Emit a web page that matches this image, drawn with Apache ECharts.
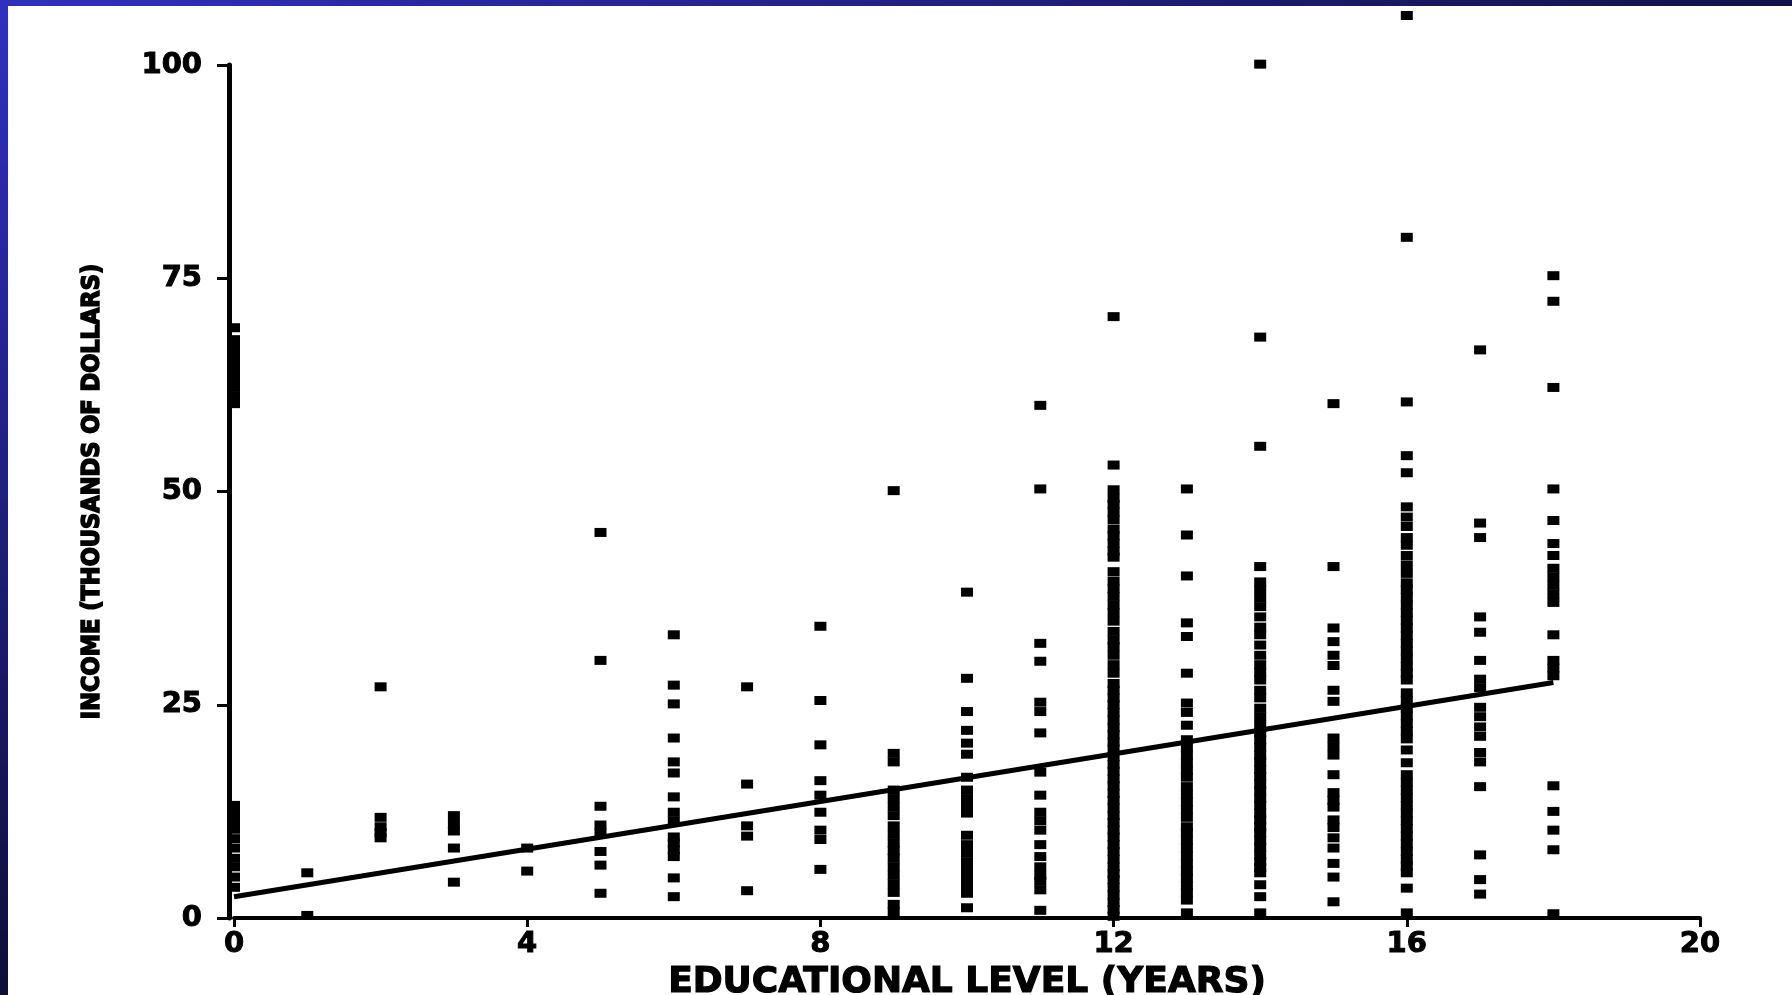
<!DOCTYPE html>
<html>
<head>
<meta charset="utf-8">
<title>Income vs Educational Level</title>
<script src="https://cdn.jsdelivr.net/npm/echarts@6/dist/echarts.min.js"></script>
<style>
  html, body { margin: 0; padding: 0; background: #ffffff; }
  #chart { width: 1792px; height: 995px; }
</style>
</head>
<body>
<div id="chart"></div>
<script>
// Years of schooling on the x axis, and the incomes (thousands of dollars)
// observed for each level of schooling.
const years = [0, 1, 2, 3, 4, 5, 6, 7, 8, 9, 10, 11, 12, 13, 14, 15, 16, 17, 18];

const income0 = [13.2, 12.3, 11.4, 10.4, 9.3, 8.2, 7.0, 6.0, 4.8, 3.6,
  69.2, 67.8, 66.8, 65.9, 65.0, 64.0, 63.1, 62.2, 61.2, 60.3];
const income1 = [5.3, 0.3];
const income2 = [27.1, 11.8, 10.7, 10.0, 9.4];
const income3 = [12.0, 11.0, 10.2, 8.2, 4.2];
const income4 = [8.2, 5.5];
const income5 = [45.2, 30.2, 13.1, 10.9, 10.0, 7.8, 6.2, 2.9];
const income6 = [33.2, 27.3, 25.1, 21.1, 18.3, 17.0, 14.2, 12.4, 11.4, 9.5, 8.8, 8.0, 7.2, 4.7, 2.5];
const income7 = [27.1, 15.7, 10.8, 9.6, 3.2];
const income8 = [34.2, 25.5, 20.3, 16.1, 14.4, 12.4, 10.3, 9.2, 5.7];
const income9 = [50.1, 19.3, 18.3, 15.0, 14.0, 13.0, 12.0, 10.8, 9.8, 8.8, 7.9, 7.0, 6.0, 5.0, 4.0, 3.0, 1.6, 0.7];
const income10 = [38.2, 28.1, 24.2, 22.0, 20.5, 19.2, 16.5, 15.0, 14.0, 13.0, 12.3, 9.7, 8.6, 7.6, 6.6,
  5.6, 4.7, 3.9, 2.9, 1.2];
const income11 = [60.1, 50.3, 32.2, 30.1, 25.3, 24.2, 21.7, 17.1, 14.4, 12.4, 11.4, 10.3, 8.6, 7.2, 6.0,
  5.0, 4.3, 3.3, 0.9];
const income12 = [70.5, 53.1, 50.2, 49.2, 48.5, 47.6, 46.7, 45.6, 44.8, 43.9, 43.0, 42.3, 40.6, 39.5,
  38.6, 37.7, 36.7, 35.8, 34.8, 33.6, 32.6, 31.8, 30.8, 29.7, 28.7, 27.5, 26.7, 25.8, 25.0, 24.1,
  23.2, 22.3, 21.5, 20.6, 19.8, 18.9, 18.0, 17.2, 16.3, 15.5, 14.6, 13.8, 12.9, 12.0, 11.2, 10.3,
  9.5, 8.6, 7.8, 6.9, 6.0, 5.2, 4.5, 3.6, 2.7, 1.8, 1.0, 0.2];
const income13 = [50.3, 44.9, 40.1, 34.6, 33.0, 28.7, 25.2, 24.1, 22.6, 20.9, 20.0, 19.1, 18.2, 17.3,
  16.5, 15.4, 14.5, 13.6, 12.7, 11.8, 10.7, 10.0, 9.1, 8.2, 7.3, 6.4, 5.5, 4.7, 3.8, 3.0, 2.1, 0.6];
const income14 = [100.1, 68.1, 55.3, 41.2, 39.4, 38.5, 37.5, 36.5, 35.3, 34.1, 33.2, 32.0, 30.8, 29.7,
  28.8, 27.9, 26.7, 25.8, 24.6, 23.6, 22.6, 21.7, 20.9, 20.0, 19.1, 18.3, 17.4, 16.6, 15.7, 14.9,
  14.0, 13.2, 12.3, 11.5, 10.7, 10.0, 9.1, 8.3, 7.4, 6.6, 5.9, 5.3, 3.9, 2.5, 0.6];
const income15 = [60.3, 41.2, 34.0, 32.4, 30.8, 29.6, 26.7, 25.4, 21.1, 20.1, 19.1, 16.8, 14.7, 13.8,
  13.0, 11.5, 10.6, 9.4, 8.2, 6.4, 4.8, 1.9];
const income16 = [105.8, 79.8, 60.5, 54.2, 52.2, 48.2, 47.0, 45.9, 44.6, 43.7, 42.5, 41.4, 40.4, 39.3,
  38.5, 37.6, 36.7, 35.8, 34.9, 34.0, 33.1, 32.2, 31.3, 30.4, 29.5, 28.7, 27.9, 26.4, 25.5, 24.6,
  23.7, 22.8, 21.9, 21.0, 19.7, 18.2, 16.8, 15.9, 15.0, 14.1, 13.2, 12.3, 11.4, 10.5, 9.6, 8.7,
  7.8, 6.9, 6.1, 5.3, 3.5, 0.6];
const income17 = [66.6, 46.3, 44.6, 35.3, 33.5, 30.2, 28.0, 27.0, 24.7, 23.6, 22.4, 21.3, 19.4, 18.3,
  15.4, 7.4, 4.5, 2.8];
const income18 = [75.3, 72.3, 62.2, 50.3, 46.6, 43.9, 42.5, 41.0, 40.0, 39.0, 38.0, 37.0, 33.2, 30.2,
  29.3, 28.4, 15.5, 12.5, 10.3, 8.0, 0.5];

const incomeColumns = [income0, income1, income2, income3, income4, income5, income6, income7, income8,
  income9, income10, income11, income12, income13, income14, income15, income16, income17, income18];

// Least-squares fit line, given by its two end points (years, income).
const fitYears = [0, 18];
const fitIncome = [2.5, 27.6];

// Axis ticks
const xTicks = [0, 4, 8, 12, 16, 20];
const yTicks = [0, 25, 50, 75, 100];

// Build [years, income] pairs for the scatter series.
const points = [];
years.forEach((yr, i) => {
  incomeColumns[i].forEach(v => points.push([yr, v]));
});
const fitPoints = fitYears.map((yr, i) => [yr, fitIncome[i]]);

const FONT = "'DejaVu Sans', 'Liberation Sans', sans-serif";

const chart = echarts.init(document.getElementById('chart'), null, { renderer: 'canvas' });

chart.setOption({
  animation: false,
  backgroundColor: '#ffffff',
  grid: {
    left: 234,
    right: 92,
    top: 65,
    bottom: 77,
    containLabel: false,
    outerBoundsMode: 'none'
  },
  xAxis: {
    type: 'value',
    min: xTicks[0],
    max: xTicks[xTicks.length - 1],
    interval: xTicks[1] - xTicks[0],
    name: 'EDUCATIONAL LEVEL (YEARS)',
    nameLocation: 'middle',
    nameGap: 41,
    nameTextStyle: {
      color: '#000000',
      fontFamily: FONT,
      fontWeight: 'bold',
      fontSize: 36,
      textBorderColor: '#000000',
      textBorderWidth: 1.2
    },
    axisLine: {
      show: true,
      onZero: false,
      lineStyle: { color: '#000000', width: 4 }
    },
    axisTick: {
      show: true,
      inside: false,
      length: 9,
      lineStyle: { color: '#000000', width: 3 }
    },
    axisLabel: {
      show: true,
      margin: 12,
      color: '#000000',
      fontFamily: FONT,
      fontWeight: 'bold',
      fontSize: 29,
      textBorderColor: '#000000',
      textBorderWidth: 1
    },
    splitLine: { show: false }
  },
  yAxis: {
    type: 'value',
    min: yTicks[0],
    max: yTicks[yTicks.length - 1],
    interval: yTicks[1] - yTicks[0],
    offset: 5,
    name: 'INCOME (THOUSANDS OF DOLLARS)',
    nameLocation: 'middle',
    nameRotate: 90,
    nameGap: 124,
    nameTextStyle: {
      color: '#000000',
      fontFamily: "'DejaVu Sans Condensed', 'DejaVu Sans', sans-serif",
      fontWeight: 'bold',
      fontSize: 25,
      textBorderColor: '#000000',
      textBorderWidth: 1.5
    },
    axisLine: {
      show: true,
      onZero: false,
      lineStyle: { color: '#000000', width: 5 }
    },
    axisTick: {
      show: true,
      inside: false,
      length: 12,
      lineStyle: { color: '#000000', width: 3 }
    },
    axisLabel: {
      show: true,
      margin: 27,
      color: '#000000',
      fontFamily: FONT,
      fontWeight: 'bold',
      fontSize: 29,
      textBorderColor: '#000000',
      textBorderWidth: 1
    },
    splitLine: { show: false }
  },
  graphic: [
    {
      type: 'rect',
      silent: true,
      shape: { x: 0, y: 0, width: 8, height: 995 },
      style: {
        fill: new echarts.graphic.LinearGradient(0, 0, 0, 1, [
          { offset: 0, color: '#3030c0' },
          { offset: 1, color: '#0e0e38' }
        ])
      }
    },
    {
      type: 'rect',
      silent: true,
      shape: { x: 0, y: 0, width: 1792, height: 6 },
      style: {
        fill: new echarts.graphic.LinearGradient(0, 0, 1, 0, [
          { offset: 0, color: '#3030c0' },
          { offset: 1, color: '#12124a' }
        ])
      }
    }
  ],
  series: [
    {
      name: 'Income',
      type: 'scatter',
      data: points,
      symbol: 'rect',
      symbolSize: [12, 9],
      clip: false,
      itemStyle: { color: '#000000', opacity: 1 },
      emphasis: { disabled: true },
      z: 3
    },
    {
      name: 'Fit',
      type: 'line',
      data: fitPoints,
      symbol: 'none',
      clip: false,
      lineStyle: { color: '#000000', width: 5 },
      emphasis: { disabled: true },
      z: 4
    }
  ]
});
</script>
</body>
</html>
